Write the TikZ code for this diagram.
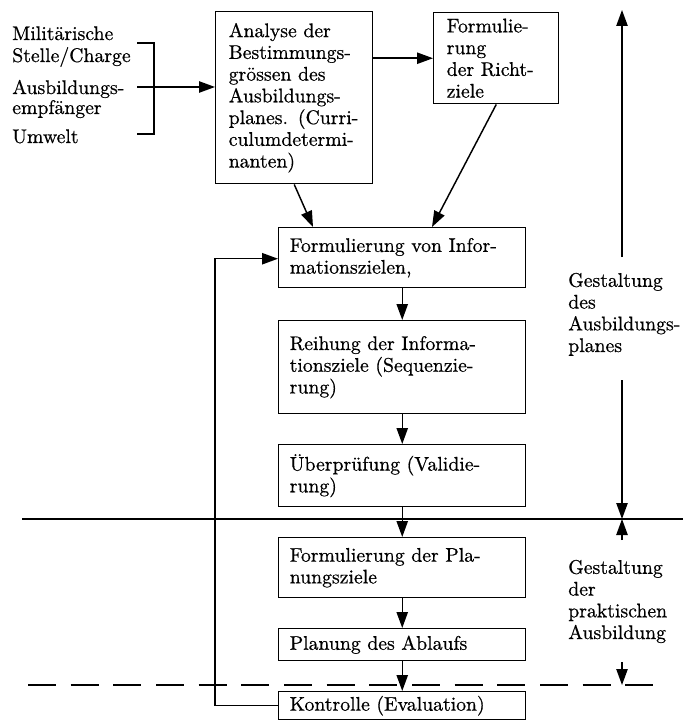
\documentclass[tikz,border=0pt]{standalone}
\usepackage{fontspec}
\setmainfont{lmroman10-regular.otf}[FakeBold=0.6]
\usetikzlibrary{arrows.meta}
\begin{document}
\begin{tikzpicture}[x=0.75pt,y=-0.75pt,
  txt/.style={font=\fontsize{14.8}{16.3}\selectfont},
  box/.style={draw, line width=1.1pt, txt, align=left, anchor=north west, inner ysep=0pt},
  conn/.style={line width=1.1pt, -{Triangle[length=12pt,width=8.5pt]}},
  ln/.style={line width=1.1pt},
  lbl/.style={txt, anchor=base west, inner sep=0pt, align=left}]
\useasboundingbox (0,0) rectangle (691,720);

% left labels
\node[lbl] (m1) at (12,40) {Militärische};
\node[lbl] (m2) at (12,62) {Stelle/Charge};
\node[lbl] (m3) at (12,94) {Ausbildungs-};
\node[lbl] (m4) at (12,114) {empfänger};
\node[lbl] (m5) at (12,143) {Umwelt};

% boxes
\node[box, minimum width=117.75pt, minimum height=129pt, text width=98.25pt, inner xsep=9.75pt] (A) at (215,11)
  {Analyse der\\Bestimmungs-\\grössen des\\Ausbildungs-\\planes. (Curri-\\culumdetermi-\\nanten)};
\node[box, minimum width=93.75pt, minimum height=68.25pt, text width=74.25pt, inner xsep=9.75pt] (B) at (433,12)
  {Formulie-\\rung\\der Richt-\\ziele};
\node[box, minimum width=185.25pt, minimum height=45pt, text width=168.75pt, inner xsep=8.25pt] (C) at (278,227)
  {Formulierung von Infor-\\mationszielen,};
\node[box, minimum width=185.25pt, minimum height=69.75pt, text width=168.75pt, inner xsep=8.25pt] (D) at (278,320)
  {Reihung der Informa-\\tionsziele (Sequenzie-\\rung)};
\node[box, minimum width=185.25pt, minimum height=46.5pt, text width=168.75pt, inner xsep=8.25pt] (E) at (278,444)
  {Überprüfung (Validie-\\rung)};
\node[box, minimum width=185.25pt, minimum height=45pt, text width=168.75pt, inner xsep=8.25pt] (F) at (278,537)
  {Formulierung der Pla-\\nungsziele};
\node[box, minimum width=185.25pt, minimum height=24pt, text width=168.75pt, inner xsep=8.25pt] (G) at (278,628)
  {Planung des Ablaufs};
\node[box, minimum width=185.25pt, minimum height=21pt, text width=168.75pt, inner xsep=8.25pt] (H) at (278,691)
  {Kontrolle (Evaluation)};

% right labels (anchor is baseline of last line)
\node[lbl] (R1) at (568,352) {Gestaltung\\des\\Ausbildungs-\\planes};
\node[lbl] (R2) at (568,639) {Gestaltung\\der\\praktischen\\Ausbildung};

% bracket and input arrow
\coordinate (bt) at (137,43);
\coordinate (bb) at (137,134);
\coordinate (lin) at (137,87);
\draw[ln] (bt) -- ++(17,0) |- (bb);
\draw[conn] (lin) -- (lin -| A.west);

% connectors
\draw[conn] (A.east |- B.west) -- (B.west);
\draw[conn] (A.south) -- ([xshift=26.25pt]C.north west);
\draw[conn] (B.south) -- ([xshift=115.5pt]C.north west);
\draw[conn] (C.south) -- (D.north);
\draw[conn] (D.south) -- (E.north);
\draw[conn] (E.south) -- (F.north);
\draw[conn] (F.south) -- (G.north);
\draw[conn] (G.south) -- (H.north);
\draw[conn] (H.west) -- ++(-63,0) |- ([yshift=-0.75pt]C.west);

% separator lines
\coordinate (s1) at (22,519);
\coordinate (s2) at (683,519);
\draw[ln] (s1) -- (s2);
\coordinate (d1) at (28,685);
\coordinate (d2) at (656,685);
\draw[ln, dash pattern=on 21pt off 11pt] (d1) -- (d2);

% right-hand range arrows
\coordinate (r0) at (622,10);
\coordinate (r1) at (622,257);
\coordinate (r2) at (622,380);
\coordinate (r3) at (622,519);
\coordinate (r4) at (622,540);
\coordinate (r5) at (622,662);
\coordinate (r6) at (622,685);
\draw[conn] (r1) -- (r0);
\draw[conn] (r2) -- (r3);
\draw[conn] (r4) -- (r3);
\draw[conn] (r5) -- (r6);
\end{tikzpicture}
\end{document}
